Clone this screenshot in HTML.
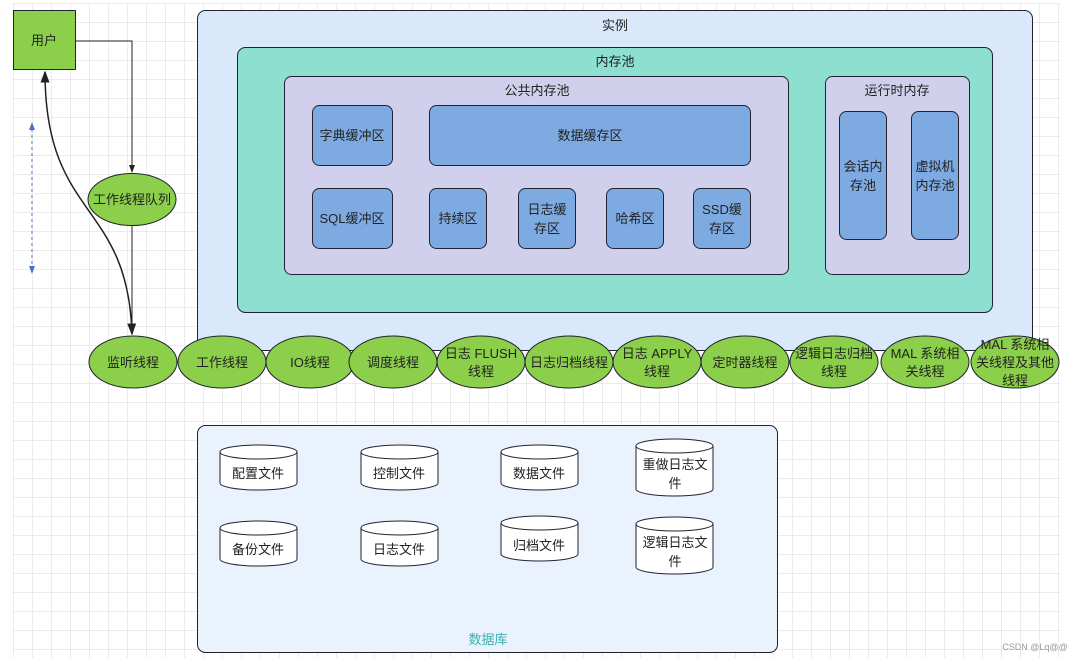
<!DOCTYPE html>
<html><head><meta charset="utf-8"><style>
body{margin:0;background:#fff;}
svg{display:block;font-family:"Liberation Sans","Noto Sans CJK SC",sans-serif;}
</style></head><body>
<svg width="1079" height="661" viewBox="0 0 1079 661" xmlns="http://www.w3.org/2000/svg">
<defs>
<pattern id="g" x="13" y="3" width="19" height="19" patternUnits="userSpaceOnUse">
<path d="M0 0H19M0 0V19" stroke="#d8d8d8" stroke-width="1" fill="none"/>
</pattern>
<marker id="a" markerWidth="8" markerHeight="8" refX="7" refY="4" orient="auto-start-reverse"><path d="M0 1L8 4L0 7Z" fill="#222"/></marker>
<marker id="b" markerWidth="8" markerHeight="8" refX="7" refY="4" orient="auto-start-reverse"><path d="M0 1L8 4L0 7Z" fill="#4a6fd0"/></marker>
</defs>
<rect x="13" y="3" width="1047" height="655" fill="url(#g)"/>
<g font-size="13" fill="#222" text-anchor="middle">
<rect x="197.5" y="10.5" width="835" height="340" rx="8" fill="#dae8fc" stroke="#223"/>
<text x="615" y="30">实例</text>
<rect x="237.5" y="47.5" width="755" height="265" rx="8" fill="#8ddfcf" stroke="#223"/>
<text x="615" y="66">内存池</text>
<rect x="284.5" y="76.5" width="504" height="198" rx="7" fill="#d0d0ec" stroke="#223"/>
<text x="537" y="95">公共内存池</text>
<rect x="825.5" y="76.5" width="144" height="198" rx="7" fill="#d0d0ec" stroke="#223"/>
<text x="897" y="95">运行时内存</text>
<g fill="#7eaae2" stroke="#223">
<rect x="312.5" y="105.5" width="80" height="60" rx="7"/>
<rect x="429.5" y="105.5" width="321" height="60" rx="7"/>
<rect x="312.5" y="188.5" width="80" height="60" rx="7"/>
<rect x="429.5" y="188.5" width="57" height="60" rx="7"/>
<rect x="518.5" y="188.5" width="57" height="60" rx="7"/>
<rect x="606.5" y="188.5" width="57" height="60" rx="7"/>
<rect x="693.5" y="188.5" width="57" height="60" rx="7"/>
<rect x="839.5" y="111.5" width="47" height="128" rx="7"/>
<rect x="911.5" y="111.5" width="47" height="128" rx="7"/>
</g>
<text x="352" y="140">字典缓冲区</text>
<text x="590" y="140">数据缓存区</text>
<text x="352" y="223">SQL缓冲区</text>
<text x="458" y="223">持续区</text>
<text x="547" y="214">日志缓</text><text x="547" y="233">存区</text>
<text x="635" y="223">哈希区</text>
<text x="722" y="214">SSD缓</text><text x="722" y="233">存区</text>
<text x="863" y="171">会话内</text><text x="863" y="190">存池</text>
<text x="935" y="171">虚拟机</text><text x="935" y="190">内存池</text>

<rect x="13.5" y="10.5" width="62" height="59" fill="#8bcf4a" stroke="#223"/>
<text x="44" y="45">用户</text>
<path d="M76 41H132V172" fill="none" stroke="#222" marker-end="url(#a)"/>
<path d="M132 226V332" fill="none" stroke="#222" marker-end="url(#a)"/>
<path d="M45 72C45 220 128 200 132 334" fill="none" stroke="#222" stroke-width="1.5" marker-start="url(#a)" marker-end="url(#a)"/>
<path d="M32 123V273" fill="none" stroke="#4a6fd0" stroke-dasharray="3 3" marker-start="url(#b)" marker-end="url(#b)"/>
<ellipse cx="132" cy="199.5" rx="44" ry="26" fill="#8bcf4a" stroke="#223"/>
<text x="132" y="204">工作线程队列</text>

<g fill="#8bcf4a" stroke="#223">
<ellipse cx="133" cy="362" rx="44" ry="26"/>
<ellipse cx="222" cy="362" rx="44" ry="26"/>
<ellipse cx="310" cy="362" rx="44" ry="26"/>
<ellipse cx="393" cy="362" rx="44" ry="26"/>
<ellipse cx="481" cy="362" rx="44" ry="26"/>
<ellipse cx="569" cy="362" rx="44" ry="26"/>
<ellipse cx="657" cy="362" rx="44" ry="26"/>
<ellipse cx="745" cy="362" rx="44" ry="26"/>
<ellipse cx="834" cy="362" rx="44" ry="26"/>
<ellipse cx="925" cy="362" rx="44" ry="26"/>
<ellipse cx="1015" cy="362" rx="44" ry="26"/>
</g>
<text x="133" y="367">监听线程</text>
<text x="222" y="367">工作线程</text>
<text x="310" y="367">IO线程</text>
<text x="393" y="367">调度线程</text>
<text x="481" y="358">日志 FLUSH</text><text x="481" y="376">线程</text>
<text x="569" y="367">日志归档线程</text>
<text x="657" y="358">日志 APPLY</text><text x="657" y="376">线程</text>
<text x="745" y="367">定时器线程</text>
<text x="834" y="358">逻辑日志归档</text><text x="834" y="376">线程</text>
<text x="925" y="358">MAL 系统相</text><text x="925" y="376">关线程</text>
<text x="1015" y="349">MAL 系统相</text><text x="1015" y="367">关线程及其他</text><text x="1015" y="385">线程</text>

<rect x="197.5" y="425.5" width="580" height="227" rx="8" fill="#eaf2fe" stroke="#223"/>
<text x="488" y="644" fill="#3bb0b0">数据库</text>
<g fill="#fff" stroke="#223">
<path d="M220 452V483A38.5 7 0 0 0 297 483V452"/><ellipse cx="258.5" cy="452" rx="38.5" ry="7"/>
<path d="M361 452V483A38.5 7 0 0 0 438 483V452"/><ellipse cx="399.5" cy="452" rx="38.5" ry="7"/>
<path d="M501 452V483A38.5 7 0 0 0 578 483V452"/><ellipse cx="539.5" cy="452" rx="38.5" ry="7"/>
<path d="M636 446V489A38.5 7 0 0 0 713 489V446"/><ellipse cx="674.5" cy="446" rx="38.5" ry="7"/>
<path d="M220 528V559A38.5 7 0 0 0 297 559V528"/><ellipse cx="258.5" cy="528" rx="38.5" ry="7"/>
<path d="M361 528V559A38.5 7 0 0 0 438 559V528"/><ellipse cx="399.5" cy="528" rx="38.5" ry="7"/>
<path d="M501 523V554A38.5 7 0 0 0 578 554V523"/><ellipse cx="539.5" cy="523" rx="38.5" ry="7"/>
<path d="M636 524V567A38.5 7 0 0 0 713 567V524"/><ellipse cx="674.5" cy="524" rx="38.5" ry="7"/>
</g>
<text x="258" y="478">配置文件</text>
<text x="399" y="478">控制文件</text>
<text x="539" y="478">数据文件</text>
<text x="675" y="469">重做日志文</text><text x="675" y="488">件</text>
<text x="258" y="554">备份文件</text>
<text x="399" y="554">日志文件</text>
<text x="539" y="550">归档文件</text>
<text x="675" y="547">逻辑日志文</text><text x="675" y="566">件</text>
<text x="1035" y="650" font-size="9" fill="#999">CSDN @Lq@@</text>
</g>
</svg>
</body></html>
